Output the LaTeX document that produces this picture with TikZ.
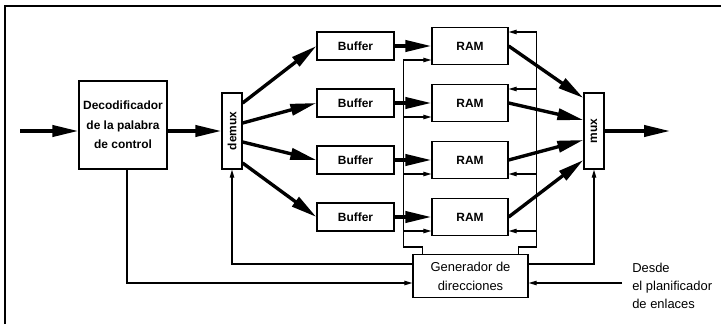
\documentclass[tikz,border=0pt]{standalone}
\usepackage{fontspec}
\setmainfont{Liberation Sans}
\usetikzlibrary{arrows.meta,calc}

\tikzset{
  bloque/.style={draw, line width=0.9pt, align=center, inner sep=0pt,
    font=\fontsize{9.2}{13.6}\selectfont},
  negrita/.style={font=\fontsize{8.5}{13.8}\selectfont\bfseries},
  grueso/.style={line width=2.4pt, -{Triangle[length=6.5mm,width=2.8mm]}},
  fino/.style={line width=0.8pt, -{Triangle[length=2mm,width=1.1mm]}},
}

\begin{document}
\begin{tikzpicture}[x=0.25mm, y=-0.25mm]
  \useasboundingbox (0,0) rectangle (721,324);
  % Marco
  \draw[line width=1.2pt] (5,324) -- (5,6) -- (721,6);

  % Bloques
  \node[bloque, negrita, minimum width=22mm, minimum height=22mm] (dec) at (123,125)
    {Decodificador\\de la palabra\\de control};
  \node[bloque, minimum width=5mm, minimum height=19mm] (demux) at (232,131) {};
  \node[rotate=90, negrita] (demuxtxt) at (demux) {demux};
  \foreach \i/\y in {1/46,2/103,3/160,4/217} {
    \node[bloque, negrita, minimum width=19.25mm, minimum height=7mm] (buf\i) at (355.5,\y) {Buffer};
    \node[bloque, negrita, minimum width=19mm, minimum height=9.25mm] (ram\i) at (470,\y) {RAM};
  }
  \node[bloque, minimum width=5mm, minimum height=19mm] (mux) at (594,131) {};
  \node[rotate=90, negrita] (muxtxt) at (mux) {mux};
  \node[bloque, minimum width=28.75mm, minimum height=10.75mm] (gen) at (470.5,276)
    {Generador de\\direcciones};
  \node[align=left, anchor=west, inner sep=0pt, font=\fontsize{9.2}{12.8}\selectfont]
    (desde) at (632,286) {Desde\\el planificador\\de enlaces};

  \coordinate (entrada) at (20,131);
  \coordinate (salida) at (670,131);
  \coordinate (planif) at (622,283);

  % Camino de datos
  \draw[grueso] (entrada) -- (entrada -| dec.west);
  \draw[grueso] (demux.west -| dec.east) -- (demux.west);
  \foreach \i/\dy in {1/-28,2/-8,3/11,4/32}
    \draw[grueso] ($(demux.east)+(0,\dy)$) -- (buf\i.west);
  \foreach \i in {1,...,4}
    \draw[grueso] (buf\i.east) -- (ram\i.west);
  \foreach \i/\dy in {1/-33,2/-11,3/9,4/29}
    \draw[grueso] (ram\i.east) -- ($(mux.west)+(0,\dy)$);
  \draw[grueso] (mux.east) -- (salida);

  % Direcciones de las RAM
  \coordinate (busizq) at ($(ram4.west)+(-28,30)$);
  \coordinate (busder) at ($(ram4.east)+(28,30)$);
  \draw[fino] ($(gen.north west)+(10,0)$) |- (busizq) |- ($(ram1.west)+(0,14)$);
  \draw[fino] ($(gen.north east)+(-10,0)$) |- (busder) |- ($(ram1.east)+(0,-14)$);
  \foreach \i in {2,3,4}
    \draw[fino] ($(ram\i.west)+(-28,14)$) -- ($(ram\i.west)+(0,14)$);
  \foreach \i/\dy in {2/-14,3/14,4/14}
    \draw[fino] ($(ram\i.east)+(28,\dy)$) -- ($(ram\i.east)+(0,\dy)$);

  % Control
  \draw[fino] ($(gen.west)+(0,-12)$) -| (demux.south);
  \draw[fino] ($(gen.east)+(0,-12)$) -| (mux.south);
  \draw[fino] ($(dec.south)+(4,0)$) |- ($(gen.west)+(0,7)$);
  \draw[fino] (planif) -- (planif -| gen.east);
\end{tikzpicture}
\end{document}
